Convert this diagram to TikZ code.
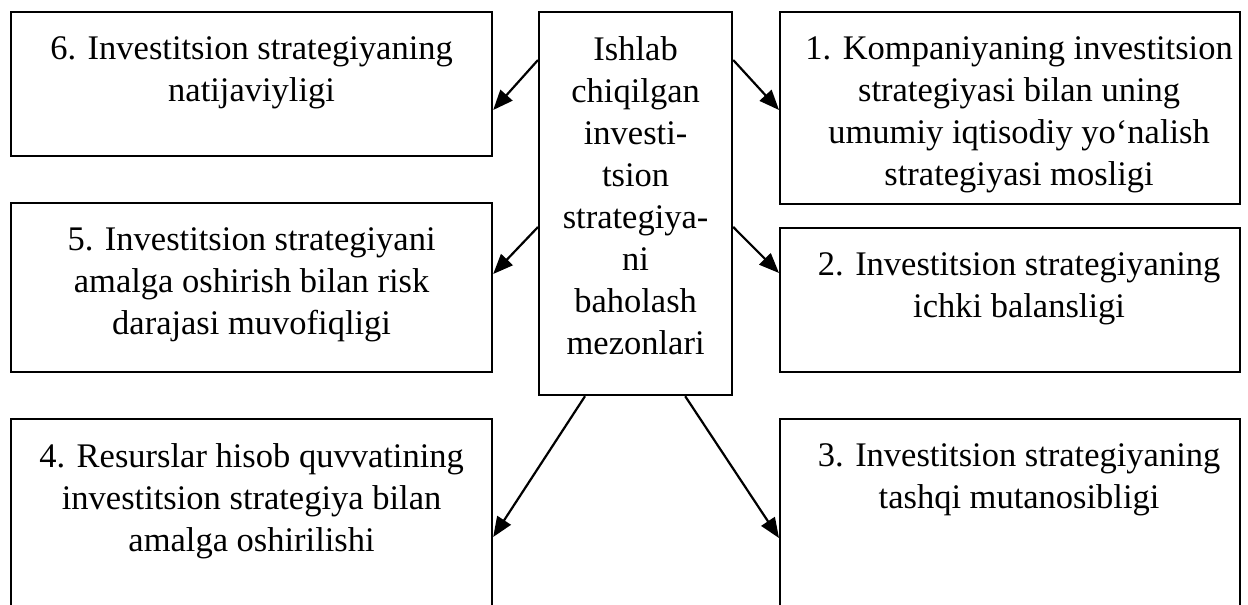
\documentclass[tikz,border=0pt]{standalone}
\usepackage{fontspec}
\setmainfont{Liberation Serif}
\usetikzlibrary{arrows.meta,calc}
\begin{document}
\begin{tikzpicture}[x=1pt,y=-1pt,
  box/.style={draw,line width=2.2pt,rectangle,inner sep=0pt,anchor=north west},
  lbl/.style={anchor=north,align=center,inner sep=0pt,font=\fontsize{34.5}{42}\selectfont},
  arr/.style={line width=2.2pt,-{Triangle[length=20pt,width=16pt]}}]
\useasboundingbox (0,0) rectangle (1248,605);
\clip (0,0) rectangle (1248,605);

% central box
\node[box,minimum width=193pt,minimum height=383pt] (c) at (538,11) {};
% left column
\node[box,minimum width=481pt,minimum height=144pt] (b6) at (10,11) {};
\node[box,minimum width=481pt,minimum height=169pt] (b5) at (10,202) {};
\node[box,minimum width=481pt,minimum height=240pt] (b4) at (10,418) {};
% right column
\node[box,minimum width=460pt,minimum height=192pt] (b1) at (779,11) {};
\node[box,minimum width=460pt,minimum height=144pt] (b2) at (779,227) {};
\node[box,minimum width=460pt,minimum height=240pt] (b3) at (779,418) {};

% texts
\node[lbl] (tc) at ($(c.north)+(0,25)$)
  {Ishlab\\chiqilgan\\investi-\\tsion\\strategiya-\\ni\\baholash\\mezonlari};
\node[lbl] (t6) at ($(b6.north)+(0,25)$)
  {6. Investitsion strategiyaning\\natijaviyligi};
\node[lbl] (t5) at ($(b5.north)+(0,25)$)
  {5. Investitsion strategiyani\\amalga oshirish bilan risk\\darajasi muvofiqligi};
\node[lbl] (t4) at ($(b4.north)+(0,25)$)
  {4. Resurslar hisob quvvatining\\investitsion strategiya bilan\\amalga oshirilishi};
\node[lbl] (t1) at ($(b1.north)+(9,25)$)
  {1. Kompaniyaning investitsion\\strategiyasi bilan uning\\umumiy iqtisodiy yo‘nalish\\strategiyasi mosligi};
\node[lbl] (t2) at ($(b2.north)+(9,25)$)
  {2. Investitsion strategiyaning\\ichki balansligi};
\node[lbl] (t3) at ($(b3.north)+(9,25)$)
  {3. Investitsion strategiyaning\\tashqi mutanosibligi};

% connectors
\draw[arr] ($(c.north west)+(0,49)$) -- ($(b6.north east)+(0,99)$);
\draw[arr] ($(c.north west)+(0,216)$) -- ($(b5.north east)+(0,72)$);
\draw[arr] ($(c.south west)+(47,0)$) -- ($(b4.north east)+(0,119)$);
\draw[arr] ($(c.north east)+(0,49)$) -- ($(b1.north west)+(0,99)$);
\draw[arr] ($(c.north east)+(0,216)$) -- ($(b2.north west)+(0,46)$);
\draw[arr] ($(c.south east)+(-48,0)$) -- ($(b3.north west)+(0,120)$);
\end{tikzpicture}
\end{document}
